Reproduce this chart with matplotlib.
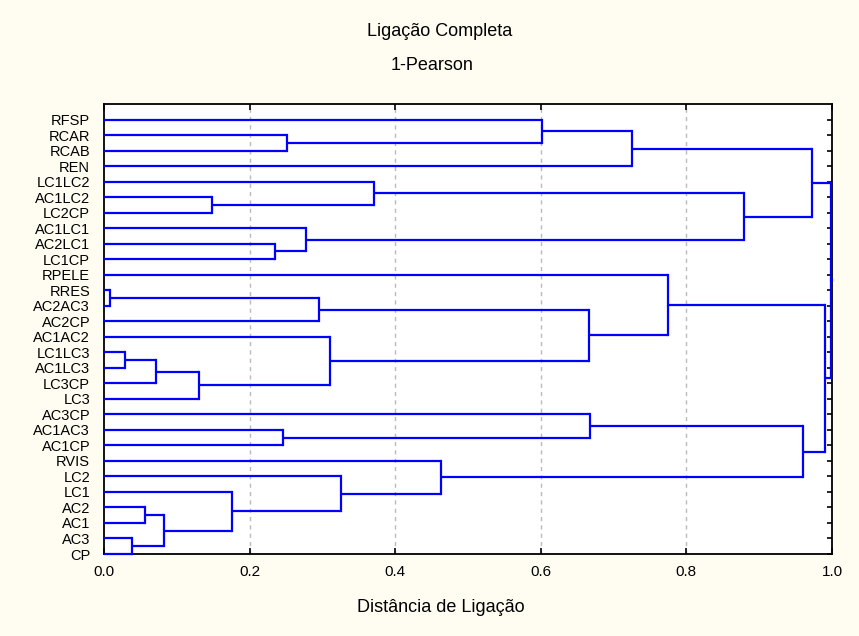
import matplotlib.pyplot as plt

plt.rcParams['font.family'] = ['Liberation Sans', 'DejaVu Sans']

# folhas na ordem em que aparecem (de cima para baixo)
labels = ['RFSP', 'RCAR', 'RCAB', 'REN', 'LC1LC2', 'AC1LC2', 'LC2CP',
          'AC1LC1', 'AC2LC1', 'LC1CP', 'RPELE', 'RRES', 'AC2AC3', 'AC2CP',
          'AC1AC2', 'LC1LC3', 'AC1LC3', 'LC3CP', 'LC3', 'AC3CP', 'AC1AC3',
          'AC1CP', 'RVIS', 'LC2', 'LC1', 'AC2', 'AC1', 'AC3', 'CP']

# passos de agrupamento: (a, b, distancia)
# indices < 29 sao folhas, >= 29 sao grupos criados nos passos anteriores
merge_a = [11, 15, 27, 25, 30, 32, 33, 5, 24, 8, 20, 1, 29, 14,
           7, 23, 4, 22, 0, 41, 19, 47, 10, 45, 49, 50, 51, 54]
merge_b = [12, 16, 28, 26, 17, 31, 18, 6, 34, 9, 21, 2, 13, 35,
           38, 37, 36, 44, 40, 42, 39, 3, 48, 43, 46, 52, 53, 55]
merge_d = [0.008, 0.029, 0.039, 0.056, 0.071, 0.082, 0.130, 0.149,
           0.176, 0.235, 0.246, 0.252, 0.295, 0.310, 0.277, 0.325,
           0.371, 0.463, 0.601, 0.666, 0.668, 0.725, 0.775, 0.879,
           0.960, 0.973, 0.991, 0.998]

n = len(labels)
ypos = {i: n - 1 - i for i in range(n)}
hgt = {i: 0.0 for i in range(n)}

fig = plt.figure(figsize=(8.59, 6.36), dpi=100, facecolor='#FFFDF2')
ax = fig.add_axes([104 / 859, 1 - 554 / 636, 728 / 859, 450 / 636])
ax.set_facecolor('white')

blue = '#0000FF'
for k, (a, b, d) in enumerate(zip(merge_a, merge_b, merge_d)):
    node = n + k
    ya, yb = ypos[a], ypos[b]
    ax.plot([hgt[a], d], [ya, ya], color=blue, lw=1.6, clip_on=False,
            solid_capstyle='butt', zorder=3)
    ax.plot([hgt[b], d], [yb, yb], color=blue, lw=1.6, clip_on=False,
            solid_capstyle='butt', zorder=3)
    ax.plot([d, d], [ya, yb], color=blue, lw=1.6, clip_on=False,
            solid_capstyle='projecting', zorder=3)
    ypos[node] = (ya + yb) / 2
    hgt[node] = d

root = n + len(merge_d) - 1
ax.plot([hgt[root], 1.0], [ypos[root], ypos[root]], color=blue, lw=1.6,
        clip_on=False, zorder=3)

ax.set_xlim(0, 1.0)
ax.set_ylim(0, n)
ax.set_xticks([0.0, 0.2, 0.4, 0.6, 0.8, 1.0])
ax.set_xticklabels(['0.0', '0.2', '0.4', '0.6', '0.8', '1.0'], fontsize=11)
ax.set_yticks([ypos[i] for i in range(n)])
ax.set_yticklabels(labels, fontsize=10.5)

for g in [0.2, 0.4, 0.6, 0.8]:
    ax.axvline(g, color='#BBBBBB', lw=1, ls=(0, (3, 3)), zorder=1)

ax.tick_params(axis='x', direction='in', top=True, bottom=True, length=4,
               width=1.2, pad=8)
ax.tick_params(axis='y', direction='in', left=True, right=True, length=3.5,
               width=1.2, pad=10)
for s in ax.spines.values():
    s.set_linewidth(1.3)
    s.set_zorder(2)

fig.text(440 / 859, 1 - 31 / 636, 'Ligação Completa', ha='center',
         va='center', fontsize=13)
fig.text(432 / 859, 1 - 66 / 636, '1-Pearson', ha='center', va='center',
         fontsize=13)
fig.text(441 / 859, 1 - 608 / 636, 'Distância de Ligação', ha='center',
         va='center', fontsize=13)

fig.savefig('out.png', dpi=100, facecolor=fig.get_facecolor())
